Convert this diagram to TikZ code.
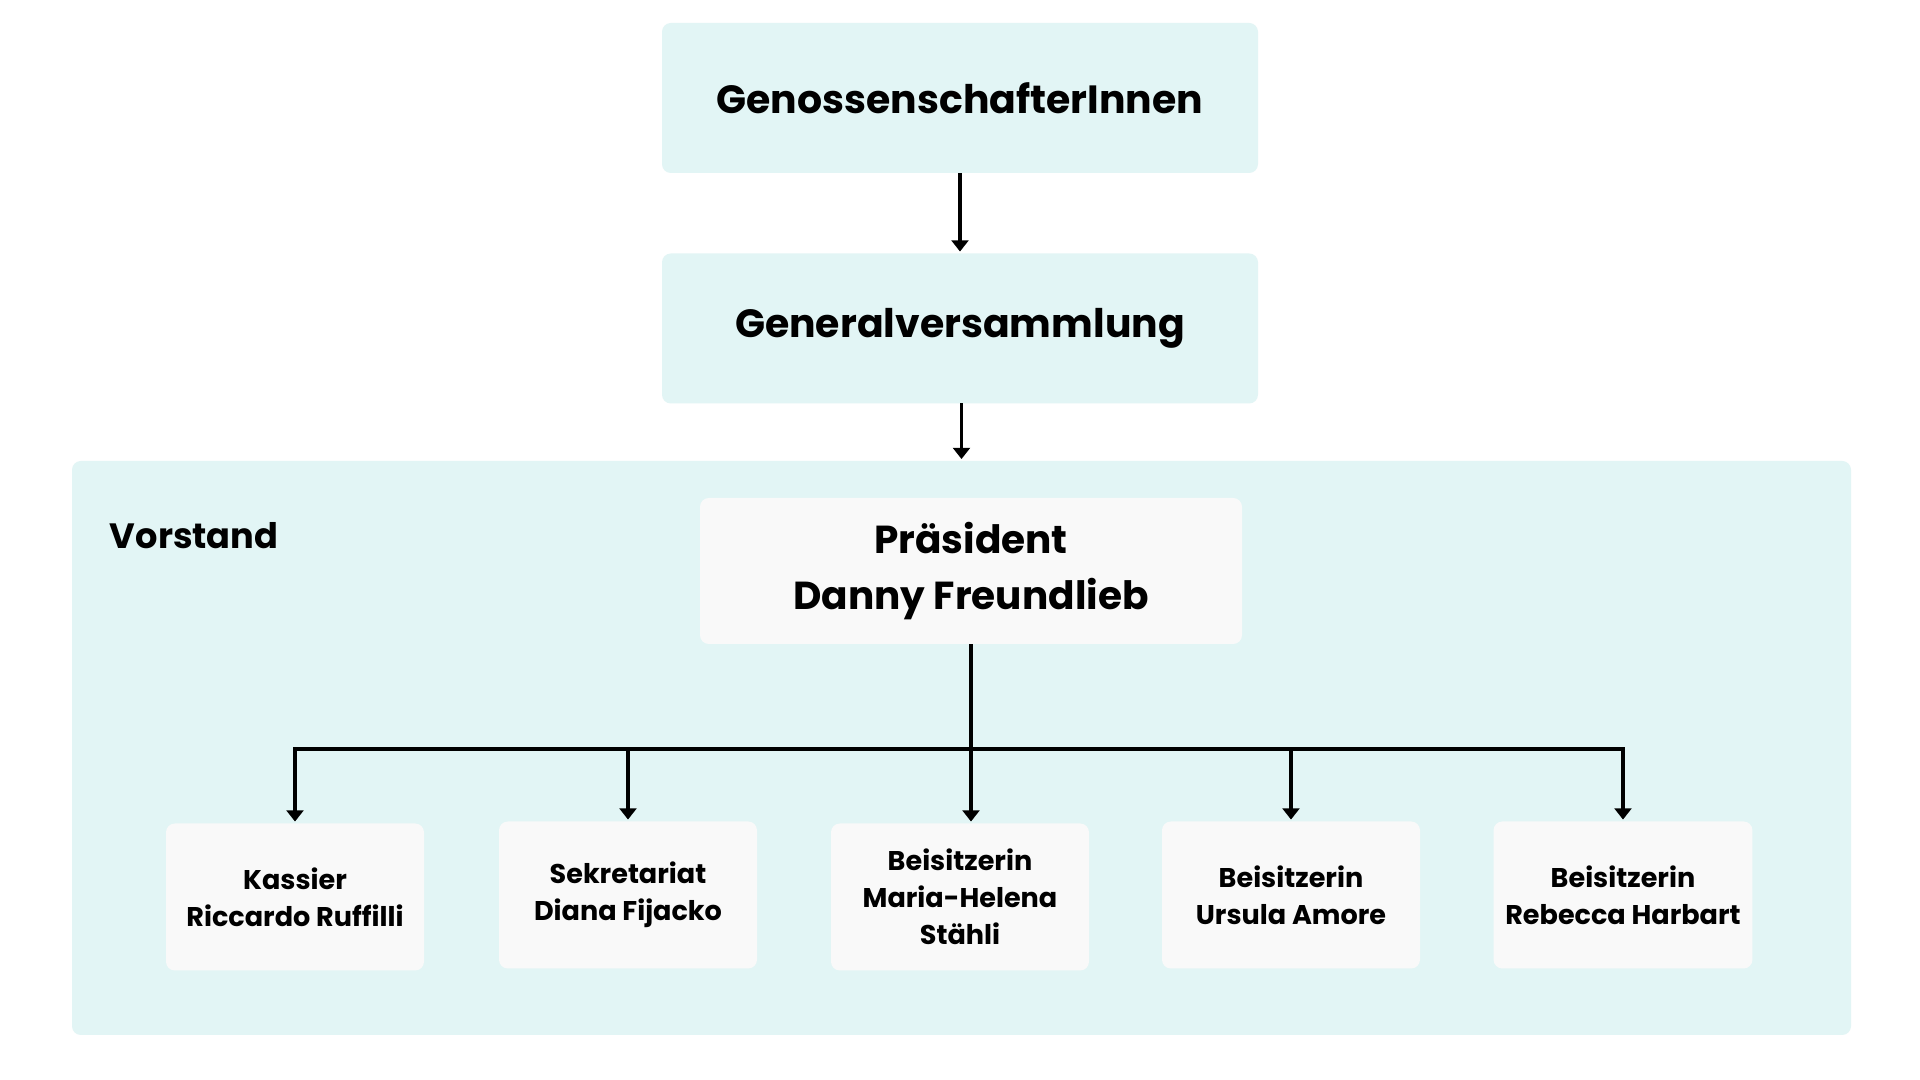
\documentclass[tikz,border=0pt]{standalone}
\usepackage{fontspec}
\setmainfont{Poppins}
\usetikzlibrary{arrows.meta}
\definecolor{tealbg}{HTML}{E2F5F5}
\definecolor{cardbg}{HTML}{F9F9F9}
\begin{document}
\begin{tikzpicture}[x=0.01cm, y=-0.01cm, line width=1.1pt, line cap=rect, >={Triangle[width=4.8pt,length=3.2pt]},
	bigbox/.style={fill=tealbg, rounded corners=2.5pt, minimum width=596*0.01cm, minimum height=150*0.01cm, font=\bfseries\fontsize{11.2}{13}\selectfont},
	card/.style={fill=cardbg, rounded corners=2.5pt, minimum width=258*0.01cm, minimum height=147*0.01cm, align=center, font=\bfseries\fontsize{7.7}{10.5}\selectfont}]
	\useasboundingbox (0,0) rectangle (1920,1080);
	\fill[white] (0,0) rectangle (1920,1080);
	% oben
	\node[bigbox] (gen) at (960,98) {GenossenschafterInnen};
	\node[bigbox] (gv) at (960,328.5) {Generalversammlung};
	% Vorstand
	\node[fill=tealbg, rounded corners=2.5pt, minimum width=1779*0.01cm, minimum height=574*0.01cm] (vor) at (961.5,748) {};
	\node[anchor=west, inner sep=0pt, font=\bfseries\fontsize{10}{12}\selectfont] (vorlabel) at (108,536) {Vorstand};
	\node[card, minimum width=542*0.01cm, minimum height=146*0.01cm, font=\bfseries\fontsize{11.1}{16}\selectfont] (praes) at (971,571) {Präsident\\Danny Freundlieb};
	\node[card] (kassier) at (295,897) {Kassier\\Riccardo Ruffilli};
	\node[card] (sekr) at (628,895) {Sekretariat\\Diana Fijacko};
	\node[card] (maria) at (960,897) {Beisitzerin\\Maria-Helena\\Stähli};
	\node[card] (ursula) at (1291,895) {Beisitzerin\\Ursula Amore};
	\node[card] (rebecca) at (1623,895) {Beisitzerin\\Rebecca Harbart};
	\path (praes.south) ++(0,103) coordinate (bar);
	% Pfeile
	\draw[->] (gen.south) -- (gv.north);
	\draw[->] (gv.south) ++(1.5,0) coordinate (gvs) -- (gvs |- vor.north);
	\draw[->] (praes.south) -- (praes.south |- maria.north);
	\draw (kassier.north |- bar) -- (rebecca.north |- bar);
	\foreach \b in {kassier,sekr,ursula,rebecca}
		\draw[->] (\b.north |- bar) -- (\b.north);
\end{tikzpicture}
\end{document}
